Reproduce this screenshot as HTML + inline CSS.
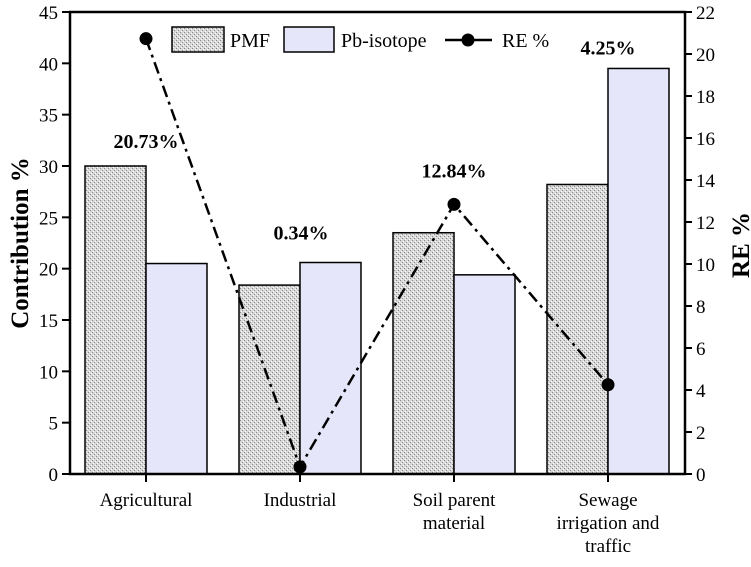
<!DOCTYPE html>
<html><head><meta charset="utf-8"><style>
body{margin:0;background:#fff}
svg text{font-family:"Liberation Serif",serif}
</style></head><body>
<svg id="chart" width="751" height="562" xmlns="http://www.w3.org/2000/svg">
<defs>
<pattern id="pmfpat" width="4" height="4" patternUnits="userSpaceOnUse">
<rect width="4" height="4" fill="#d8d8d8"/>
<rect x="0" y="0" width="1" height="1" fill="#888"/>
<rect x="2" y="2" width="1" height="1" fill="#888"/>
<rect x="1" y="3" width="1" height="1" fill="#fff"/>
<rect x="3" y="1" width="1" height="1" fill="#fff"/>
</pattern>
</defs>
<g id="plot"></g>
</svg>
<script>
const categories=[["Agricultural"],["Industrial"],["Soil parent","material"],["Sewage","irrigation and","traffic"]];
const pmf=[30.0,18.4,23.5,28.2];
const pbIso=[20.5,20.6,19.4,39.5];
const re=[20.73,0.34,12.84,4.25];
const reLabels=["20.73%","0.34%","12.84%","4.25%"];
const leftTicks=[0,5,10,15,20,25,30,35,40,45];
const rightTicks=[0,2,4,6,8,10,12,14,16,18,20,22];
const NS="http://www.w3.org/2000/svg";
const L=70,R=685,T=12,B=474;
const yL=v=>B-(v/45)*(B-T);
const yR=v=>B-(v/22)*(B-T);
const cx=i=>146+i*154;
const g=document.getElementById('plot');
function el(t,a,txt){const e=document.createElementNS(NS,t);for(const k in a)e.setAttribute(k,a[k]);if(txt!=null)e.textContent=txt;g.appendChild(e);return e;}
pmf.forEach((v,i)=>{const r=el('rect',{x:cx(i)-61,y:yL(v),width:61,height:B-yL(v),fill:'url(#pmfpat)',stroke:'#000','stroke-width':1.5});

});
pbIso.forEach((v,i)=>{const r=el('rect',{x:cx(i),y:yL(v),width:61,height:B-yL(v),fill:'#e6e6fa',stroke:'#000','stroke-width':1.5});

});
const fr=el('rect',{x:L,y:T,width:R-L,height:B-T,fill:'none',stroke:'#000','stroke-width':2.5});


leftTicks.forEach(v=>{el('line',{x1:L-8,x2:L,y1:yL(v),y2:yL(v),stroke:'#000','stroke-width':2});
const t=el('text',{x:L-12,y:yL(v)+7,'text-anchor':'end','font-size':19},v);

});
rightTicks.forEach(v=>{el('line',{x1:R,x2:R+7,y1:yR(v),y2:yR(v),stroke:'#000','stroke-width':2});
const t=el('text',{x:R+11,y:yR(v)+7,'font-size':19},v);

});
categories.forEach((c,i)=>{el('line',{x1:cx(i),x2:cx(i),y1:B,y2:B+8,stroke:'#000','stroke-width':2});
c.forEach((s,j)=>{const t=el('text',{x:cx(i),y:B+32+j*23,'text-anchor':'middle','font-size':19},s);

});});
const pts=re.map((v,i)=>cx(i)+','+yR(v)).join(' ');
const pl=el('polyline',{points:pts,fill:'none',stroke:'#000','stroke-width':2.5,'stroke-dasharray':'12,5,3,5'});


re.forEach((v,i)=>{const c=el('circle',{cx:cx(i),cy:yR(v),r:6.5,fill:'#000'});

});
const labPos=[[146,yL(30)-18],[301,yL(20.6)-23],[454,yL(23.5)-55],[608,yL(39.5)-14]];
reLabels.forEach((s,i)=>{const t=el('text',{x:labPos[i][0],y:labPos[i][1],'text-anchor':'middle','font-size':20,'font-weight':'bold'},s);

});
let t=el('text',{x:0,y:0,transform:'translate(28,243) rotate(-90)','text-anchor':'middle','font-size':25,'font-weight':'bold'},'Contribution %');


t=el('text',{x:0,y:0,transform:'translate(749,245) rotate(-90)','text-anchor':'middle','font-size':25,'font-weight':'bold'},'RE %');


let r=el('rect',{x:172,y:27,width:52,height:25,fill:'url(#pmfpat)',stroke:'#000','stroke-width':1.5});


t=el('text',{x:230,y:47,'font-size':20},'PMF');


r=el('rect',{x:284,y:27,width:50,height:25,fill:'#e6e6fa',stroke:'#000','stroke-width':1.5});


t=el('text',{x:341,y:47,'font-size':20},'Pb-isotope');


el('line',{x1:445,x2:492,y1:40,y2:40,stroke:'#000','stroke-width':2.5});
const lc=el('circle',{cx:468,cy:40,r:6.5,fill:'#000'});


t=el('text',{x:502,y:47,'font-size':20},'RE %');


</script>
</body></html>
